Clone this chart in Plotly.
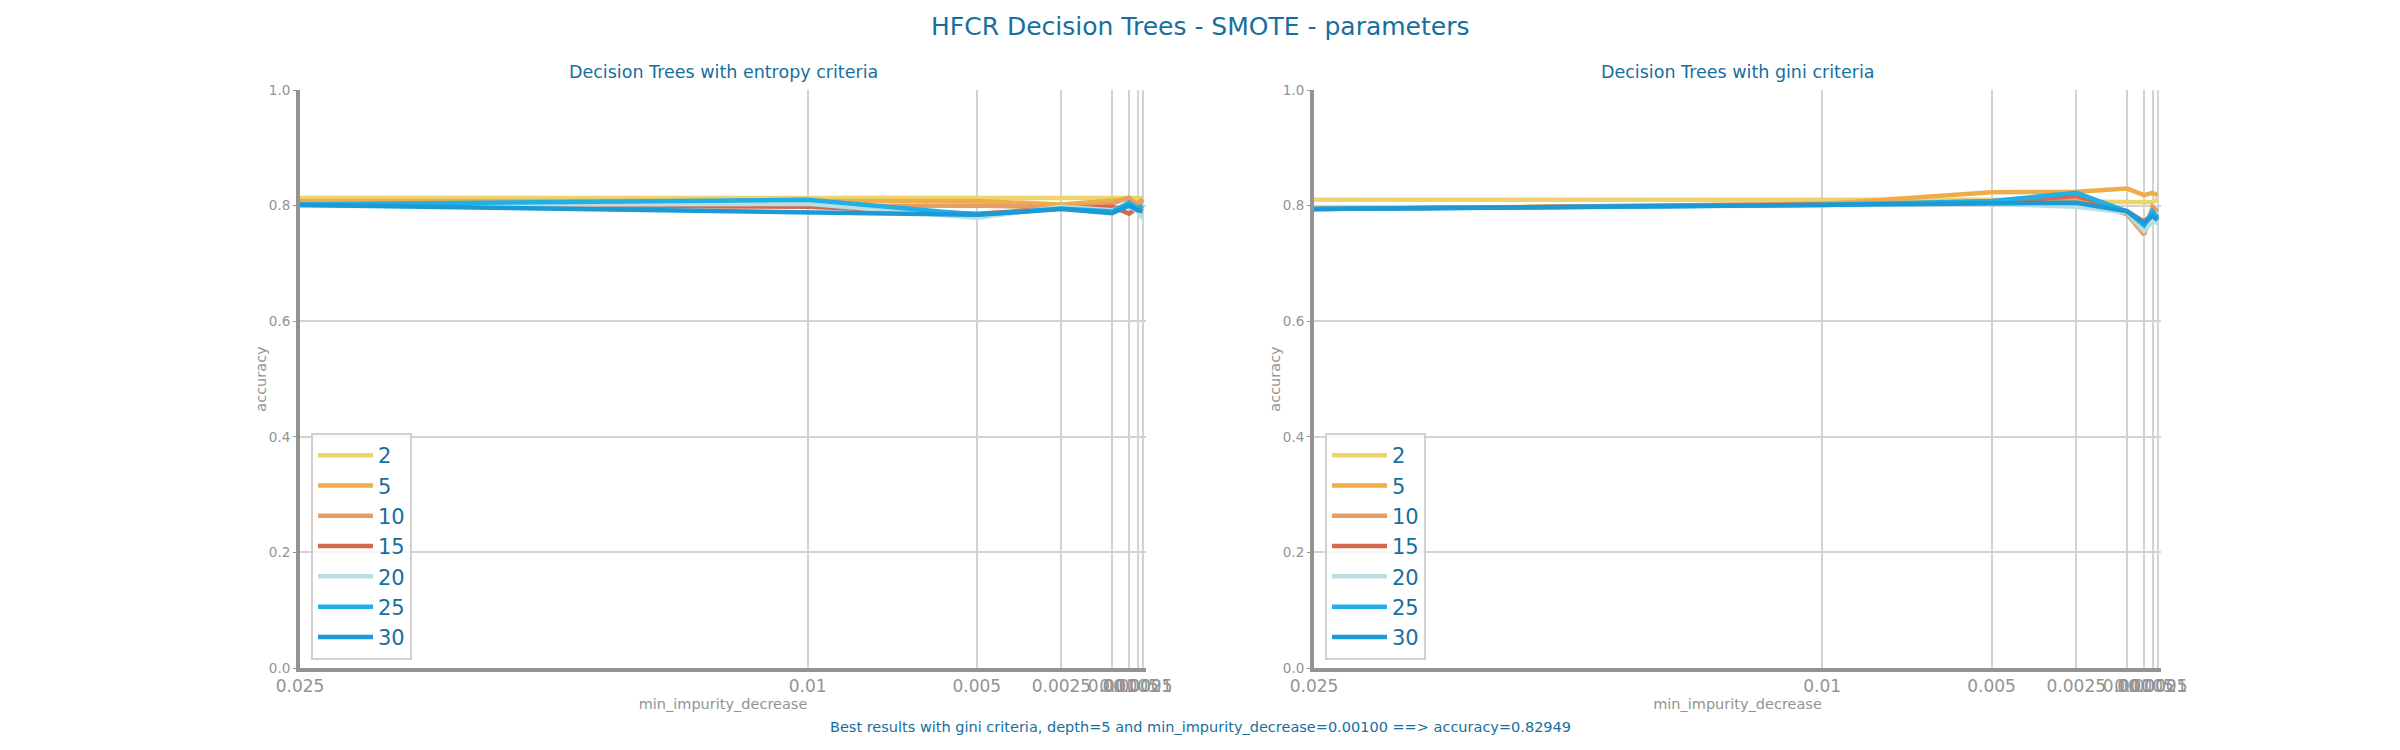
import plotly.graph_objects as go

# min_impurity_decrease values tested (x axis, decreasing)
min_impurity = [0.025, 0.01, 0.005, 0.0025, 0.001, 0.0005, 0.00025, 0.0001]
tick_labels = ["0.025", "0.01", "0.005", "0.0025", "0.001", "0.0005", "0.00025", "0.0001"]
depths = [2, 5, 10, 15, 20, 25, 30]

# accuracy per depth, one row per depth
entropy_acc = [
    [0.813, 0.813, 0.813, 0.813, 0.813, 0.813, 0.813, 0.813],
    [0.808, 0.809, 0.808, 0.802, 0.810, 0.811, 0.804, 0.810],
    [0.803, 0.799, 0.800, 0.797, 0.803, 0.814, 0.800, 0.811],
    [0.801, 0.798, 0.786, 0.795, 0.798, 0.786, 0.797, 0.795],
    [0.801, 0.803, 0.779, 0.798, 0.792, 0.799, 0.790, 0.778],
    [0.802, 0.810, 0.784, 0.795, 0.790, 0.805, 0.795, 0.800],
    [0.801, 0.788, 0.784, 0.794, 0.787, 0.800, 0.792, 0.790],
]
gini_acc = [
    [0.810, 0.810, 0.810, 0.807, 0.806, 0.806, 0.806, 0.811],
    [0.794, 0.803, 0.823, 0.824, 0.8295, 0.818, 0.822, 0.818],
    [0.794, 0.802, 0.806, 0.812, 0.785, 0.750, 0.798, 0.790],
    [0.794, 0.802, 0.804, 0.817, 0.790, 0.772, 0.785, 0.780],
    [0.794, 0.801, 0.803, 0.798, 0.788, 0.756, 0.772, 0.770],
    [0.794, 0.801, 0.808, 0.822, 0.790, 0.766, 0.790, 0.778],
    [0.794, 0.801, 0.805, 0.805, 0.790, 0.770, 0.782, 0.775],
]

colors = ["#EDD46F", "#EEAD4A", "#E69F63", "#D4694F", "#B9DDE2", "#1FB0E8", "#1A9AD6"]
blue_txt = "#166F9E"
grey = "#939393"
font = "DejaVu Sans"

# the page body has an 8px margin, so size the figure to fit the window
W, H, PAD = 2384, 734, 8


def fx(px):
    return (px - PAD) / W


def fy(py):
    return 1 - (py - PAD) / H


fig = go.Figure()

for i, d in enumerate(depths):
    fig.add_trace(go.Scatter(
        x=min_impurity, y=entropy_acc[i], mode="lines", name=str(d),
        line=dict(color=colors[i], width=4.5), xaxis="x", yaxis="y",
        legend="legend"
    ))
for i, d in enumerate(depths):
    fig.add_trace(go.Scatter(
        x=min_impurity, y=gini_acc[i], mode="lines", name=str(d),
        line=dict(color=colors[i], width=4.5), xaxis="x2", yaxis="y2",
        legend="legend2"
    ))

xaxis_style = dict(
    range=[0.025, 0], tickmode="array", tickvals=min_impurity, ticktext=tick_labels,
    tickangle=0, automargin=False, showline=True, linecolor=grey, linewidth=4,
    showgrid=True, gridcolor="#D3D3D3", gridwidth=2, zeroline=False,
    ticks="", tickfont=dict(size=17, color=grey, family=font),
    title=dict(text="min_impurity_decrease", font=dict(size=14.5, color=grey, family=font), standoff=4),
)
yaxis_style = dict(
    range=[0, 1], tickvals=[0, 0.2, 0.4, 0.6, 0.8, 1.0],
    ticktext=["0.0", "0.2", "0.4", "0.6", "0.8", "1.0"],
    automargin=False, showline=True, linecolor=grey, linewidth=4, showgrid=True,
    gridcolor="#D3D3D3", gridwidth=2, zeroline=False, ticks="outside", ticklen=3,
    tickcolor=grey, tickfont=dict(size=13.5, color=grey, family=font),
    title=dict(text="accuracy", font=dict(size=14.5, color=grey, family=font), standoff=0),
)

legend_style = dict(
    yanchor="bottom", y=fy(660), xanchor="left", itemwidth=55,
    bgcolor="rgba(255,255,255,0.8)", bordercolor="#D0D0D0", borderwidth=2,
    font=dict(size=21, color=blue_txt, family=font), tracegroupgap=0,
)

x1 = [fx(300), fx(1146)]
x2 = [fx(1314), fx(2161)]
ydom = [fy(668), fy(90)]

fig.update_layout(
    width=W, height=H,
    margin=dict(l=0, r=0, t=0, b=0),
    paper_bgcolor="white", plot_bgcolor="white",
    xaxis=dict(domain=x1, anchor="y", **xaxis_style),
    yaxis=dict(domain=ydom, anchor="x", **yaxis_style),
    xaxis2=dict(domain=x2, anchor="y2", **xaxis_style),
    yaxis2=dict(domain=ydom, anchor="x2", **yaxis_style),
    legend=dict(x=fx(311), **legend_style),
    legend2=dict(x=fx(1325), **legend_style),
    annotations=[
        dict(text="HFCR Decision Trees - SMOTE - parameters", x=fx(1200), y=fy(26),
             xref="paper", yref="paper", showarrow=False, xanchor="center", yanchor="middle",
             font=dict(size=25, color=blue_txt, family=font)),
        dict(text="Decision Trees with entropy criteria", x=sum(x1) / 2, y=fy(72),
             xref="paper", yref="paper", showarrow=False, xanchor="center", yanchor="middle",
             font=dict(size=17.5, color=blue_txt, family=font)),
        dict(text="Decision Trees with gini criteria", x=sum(x2) / 2, y=fy(72),
             xref="paper", yref="paper", showarrow=False, xanchor="center", yanchor="middle",
             font=dict(size=17.5, color=blue_txt, family=font)),
        dict(text="Best results with gini criteria, depth=5 and min_impurity_decrease=0.00100 ==> accuracy=0.82949",
             x=fx(1200), y=fy(727), xref="paper", yref="paper", showarrow=False,
             xanchor="center", yanchor="middle",
             font=dict(size=14.5, color=blue_txt, family=font)),
    ],
)

fig.write_html("out.html")
